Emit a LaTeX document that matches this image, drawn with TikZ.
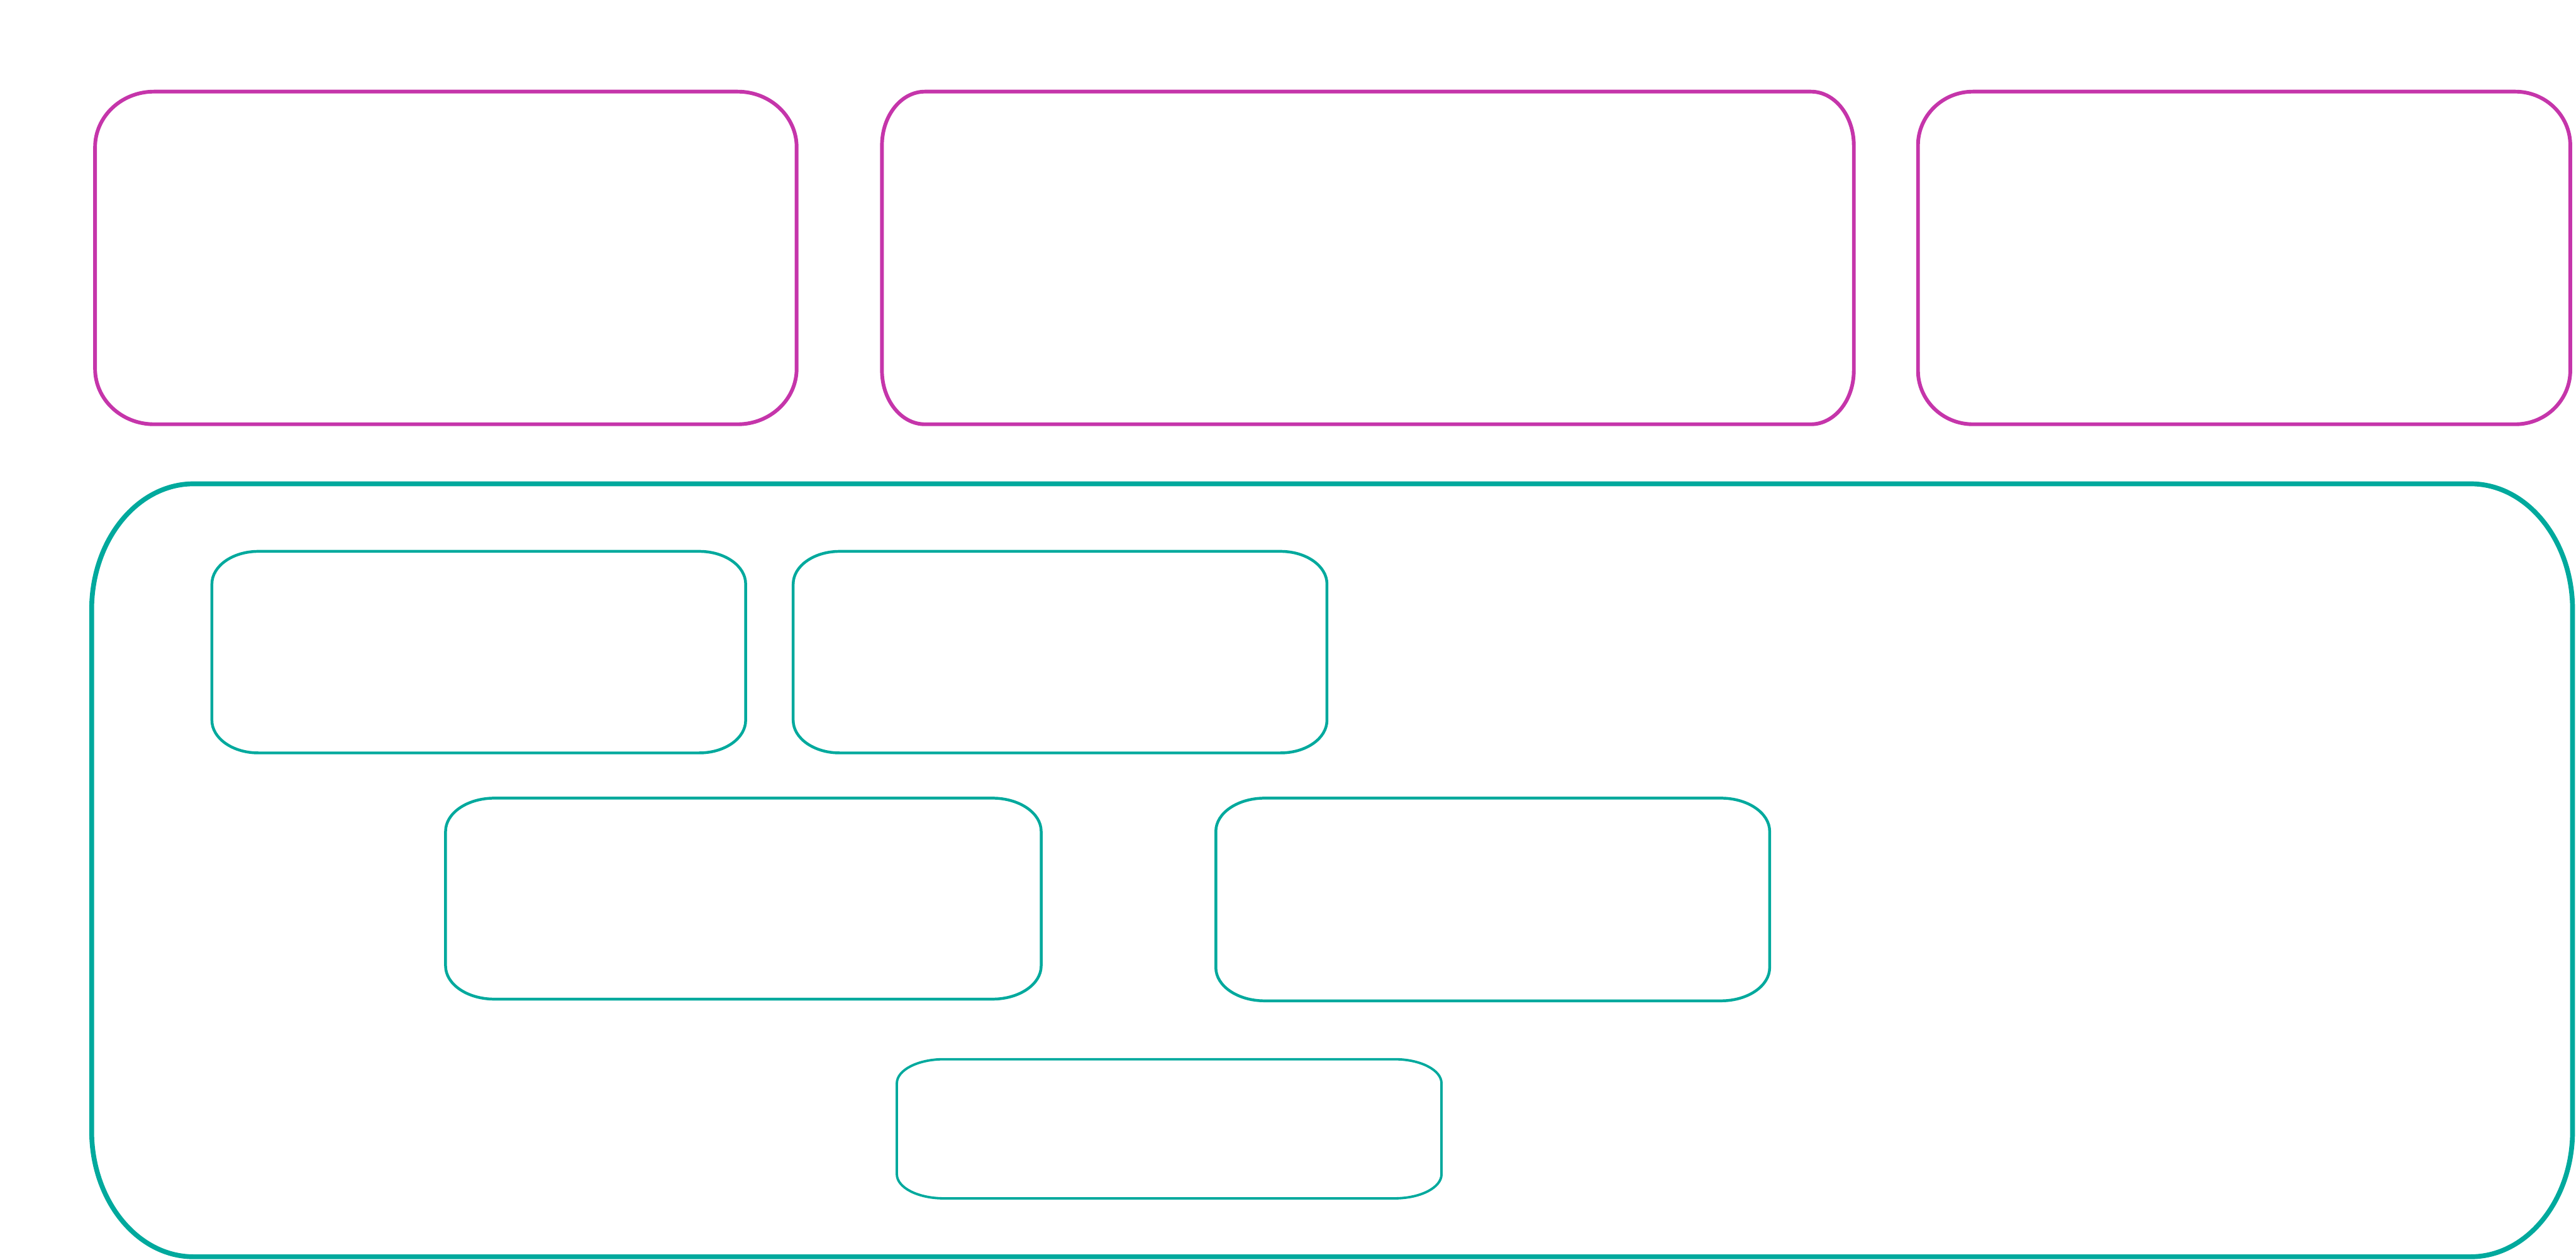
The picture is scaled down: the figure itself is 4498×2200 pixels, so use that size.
\documentclass[tikz,border=0pt]{standalone}
\usepackage{xcolor}
\usepackage{tikz}
\usetikzlibrary{calc}

\definecolor{magentaline}{RGB}{197,53,170}
\definecolor{tealline}{RGB}{0,169,157}

% outline with elliptic corners round a named node
\newcommand{\ovalframe}[4][]{%
  \draw[#1] ($(#2.north west)+(#3,0)$) -- ($(#2.north east)+(-#3,0)$)
    arc[start angle=90,end angle=0,x radius=#3,y radius=#4]
    -- ($(#2.south east)+(0,#4)$)
    arc[start angle=0,end angle=-90,x radius=#3,y radius=#4]
    -- ($(#2.south west)+(#3,0)$)
    arc[start angle=270,end angle=180,x radius=#3,y radius=#4]
    -- ($(#2.north west)+(0,-#4)$)
    arc[start angle=180,end angle=90,x radius=#3,y radius=#4] -- cycle;}

\begin{document}
\begin{tikzpicture}[
  x=0.1mm, y=0.1mm,
  every node/.style={inner sep=0pt, outer sep=0pt},
  slot/.style 2 args={minimum width=#1*0.1mm, minimum height=#2*0.1mm},
  pinkline/.style={draw=magentaline, line width=1.85pt},
  outerline/.style={draw=tealline, line width=2.4pt},
  innerline/.style={draw=tealline, line width=1.4pt},
  thinline/.style={draw=tealline, line width=1.2pt}
]
  \useasboundingbox (0,0) rectangle (4498,-2200);

  % top row
  \node[slot={1225}{581}] (left) at (778.5,-450.5) {};
  \node[slot={1697}{581}] (middle) at (2388.5,-450.5) {};
  \node[slot={1139}{581}] (right) at (3918.5,-450.5) {};

  % large frame and its boxes
  \node[slot={4332}{1350}] (frame) at (2326,-1520) {};
  \node[slot={932}{352}] (first) at (836,-1139) {};
  \node[slot={932}{352}] (second) at (1851,-1139) {};
  \node[slot={1040}{351}] (third) at (1298,-1569.5) {};
  \node[slot={967}{354}] (fourth) at (2606.5,-1571) {};
  \node[slot={951}{243}] (fifth) at (2041.5,-1971.5) {};

  \ovalframe[pinkline]{left}{103}{97}
  \ovalframe[pinkline]{middle}{75}{94}
  \ovalframe[pinkline]{right}{96}{94}

  \ovalframe[outerline]{frame}{178}{220}
  \ovalframe[innerline]{first}{81}{57}
  \ovalframe[innerline]{second}{81}{57}
  \ovalframe[innerline]{third}{85}{58}
  \ovalframe[innerline]{fourth}{85}{58}
  \ovalframe[thinline]{fifth}{82}{42}
\end{tikzpicture}
\end{document}
